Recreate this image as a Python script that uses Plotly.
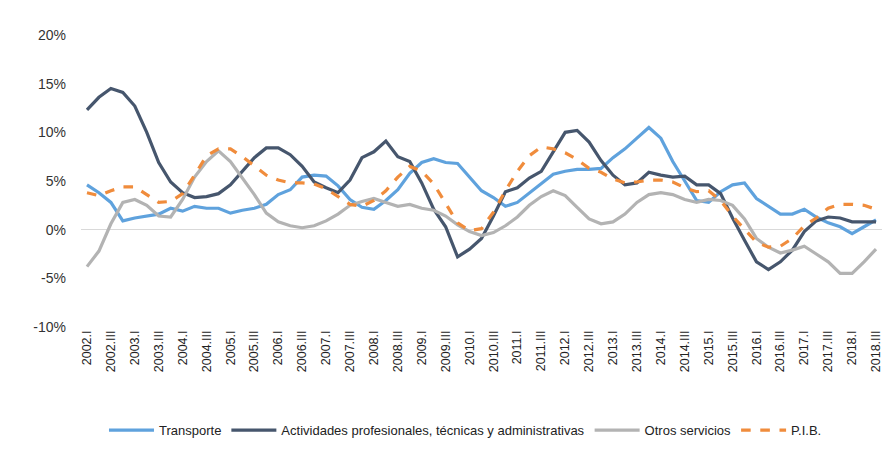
import plotly.graph_objects as go

quarters = []
for yr in range(2002, 2019):
    for q in ["I", "II", "III", "IV"]:
        quarters.append(f"{yr}.{q}")
quarters = quarters[:quarters.index("2018.III") + 1]

transporte = [4.6, 3.8, 2.8, 0.9, 1.2, 1.4, 1.6, 2.2, 1.9, 2.4, 2.2, 2.2, 1.7, 2.0, 2.2, 2.6,
              3.6, 4.1, 5.4, 5.6, 5.5, 4.5, 3.1, 2.3, 2.1, 3.0, 4.1, 5.8, 6.9, 7.3, 6.9, 6.8,
              5.4, 4.0, 3.3, 2.4, 2.8, 3.8, 4.8, 5.7, 6.0, 6.2, 6.2, 6.3, 7.4, 8.3, 9.4, 10.5,
              9.4, 7.0, 5.0, 3.0, 2.8, 3.9, 4.6, 4.8, 3.2, 2.4, 1.6, 1.6, 2.1, 1.3, 0.7, 0.3,
              -0.4, 0.3, 1.0]

actividades = [12.3, 13.6, 14.5, 14.1, 12.7, 10.0, 6.9, 4.9, 3.8, 3.3, 3.4, 3.7, 4.6, 6.0, 7.4, 8.4,
               8.4, 7.7, 6.5, 4.9, 4.3, 3.8, 5.1, 7.4, 8.0, 9.1, 7.5, 7.0, 4.8, 2.1, 0.3, -2.8,
               -2.0, -0.9, 1.4, 3.9, 4.3, 5.3, 6.0, 8.0, 10.0, 10.2, 9.0, 7.1, 5.6, 4.6, 4.8, 5.9,
               5.6, 5.4, 5.5, 4.6, 4.6, 3.7, 1.2, -1.1, -3.3, -4.1, -3.3, -2.1, -0.2, 0.9, 1.3, 1.2,
               0.8, 0.8, 0.8]

otros = [-3.8, -2.2, 0.6, 2.8, 3.1, 2.5, 1.4, 1.3, 3.1, 5.4, 7.0, 8.1, 7.0, 5.3, 3.6, 1.7,
         0.8, 0.4, 0.2, 0.4, 0.9, 1.6, 2.5, 2.9, 3.2, 2.8, 2.4, 2.6, 2.2, 2.0, 1.4, 0.5,
         -0.2, -0.6, -0.3, 0.4, 1.3, 2.5, 3.4, 4.0, 3.5, 2.3, 1.1, 0.6, 0.8, 1.6, 2.8, 3.6,
         3.8, 3.6, 3.1, 2.8, 3.1, 3.0, 2.5, 1.1, -0.9, -1.8, -2.4, -2.1, -1.7, -2.5, -3.3, -4.5,
         -4.5, -3.3, -2.0]

pib = [3.8, 3.5, 4.0, 4.4, 4.4, 3.6, 2.8, 2.9, 3.7, 5.6, 7.6, 8.3, 8.3, 7.5, 6.5, 5.6,
       5.1, 4.8, 4.8, 4.7, 4.2, 3.4, 2.6, 2.4, 3.0, 4.0, 5.4, 6.5, 6.0, 4.7, 2.7, 0.7,
       -0.1, 0.1, 1.8, 4.0, 6.0, 7.6, 8.5, 8.3, 7.9, 7.2, 6.3, 5.9, 5.2, 4.8, 4.9, 5.1,
       5.1, 4.9, 4.3, 3.9, 4.0, 3.0, 1.4, 0.1, -1.3, -1.8, -1.7, -0.9, 0.4, 1.2, 2.2, 2.6,
       2.6, 2.5, 2.1]

y_ticks = [-10, -5, 0, 5, 10, 15, 20]
tick_labels = quarters[::2]

x = list(range(len(quarters)))

fig = go.Figure()
series = [
    ("Transporte", transporte, "#5fa2dd", "solid"),
    ("Actividades profesionales, técnicas y administrativas", actividades, "#46566d", "solid"),
    ("Otros servicios", otros, "#b3b3b3", "solid"),
    ("P.I.B.", pib, "#f08c3c", "dash"),
]
for name, vals, col, dash in series:
    fig.add_trace(go.Scatter(
        x=x, y=vals, name=name, mode="lines",
        line=dict(color=col, width=3.2, dash=dash),
        hoverinfo="skip",
    ))

# page body has an 8px default margin, so the figure is sized to fit inside it
fig.update_layout(
    width=886, height=449,
    margin=dict(l=73, r=12, t=27, b=130, autoexpand=False),
    paper_bgcolor="white", plot_bgcolor="white",
    font=dict(family="Liberation Sans, Arial, sans-serif", color="#222222"),
    showlegend=True,
    legend=dict(
        orientation="h", x=0.48, xanchor="center", y=-0.353, yanchor="middle",
        font=dict(family="Liberation Sans, sans-serif", size=13, color="#222222"),
        traceorder="normal", itemwidth=45,
    ),
)
fig.update_xaxes(
    range=[-0.5, len(quarters) - 0.5], automargin=False,
    tickmode="array", tickvals=x[::2], ticktext=tick_labels,
    tickangle=-90, tickfont=dict(size=12.5, color="#222222"),
    showgrid=False, showline=False, zeroline=False, ticks="",
)
fig.update_yaxes(
    range=[-10, 20], tickmode="array", tickvals=y_ticks, automargin=False,
    ticktext=[f"{v}%" for v in y_ticks],
    tickfont=dict(size=14, color="#333333"),
    showgrid=False, showline=False,
    zeroline=True, zerolinecolor="#d9d9d9", zerolinewidth=1,
    ticks="", ticklabelstandoff=14,
)

fig.write_html("out.html")
